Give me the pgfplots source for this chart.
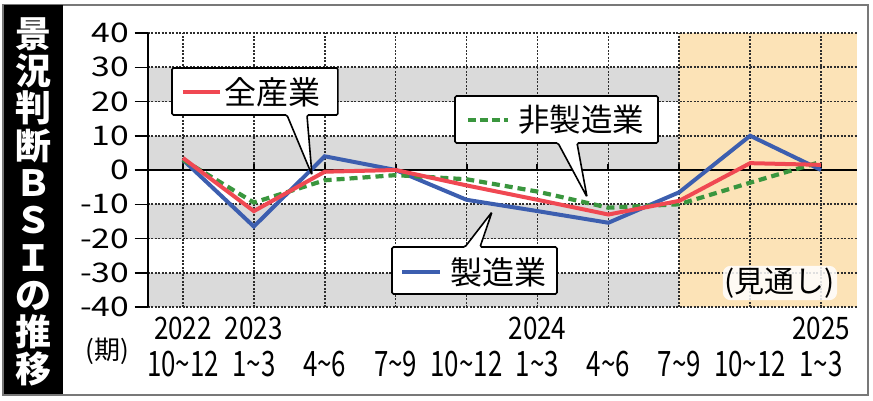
\documentclass[border=0pt]{standalone}
\usepackage{fontspec}
\setmainfont{Noto Sans CJK JP}
\newfontfamily\qfont{Noto Sans CJK JP}[FakeStretch=0.74]
\newfontfamily\yrfont{Noto Sans CJK JP}[FakeStretch=0.84]
\newfontfamily\ytfont{Noto Sans CJK JP}[FakeStretch=1.25]
\usepackage{pgfplots}
\pgfplotsset{compat=1.18}
\definecolor{band}{RGB}{218,218,218}
\definecolor{orangebg}{RGB}{252,227,183}
\definecolor{gridc}{RGB}{45,45,45}
\definecolor{framegray}{RGB}{120,120,120}
\definecolor{cred}{RGB}{240,72,82}
\definecolor{cblue}{RGB}{60,94,175}
\definecolor{cgreen}{RGB}{58,150,62}
\begin{document}
\begin{tikzpicture}
\useasboundingbox (0,0) rectangle (873pt,400pt);
\fill[white] (0,0) rectangle (873pt,400pt);
\draw[framegray, line width=1.5pt] (3pt,5pt) rectangle (868pt,395pt);
\fill[black] (4pt,6pt) rectangle (63pt,395pt);
\node[text=white, align=center, inner sep=0pt, font=\bfseries\fontsize{36}{37.3}\selectfont] at (33pt,198pt) {景\\況\\判\\断\\Ｂ\\Ｓ\\Ｉ\\の\\推\\移};
\node[inner sep=0pt, font=\fontsize{26}{26}\selectfont] at (107pt,49pt) {(期)};
\begin{axis}[
  at={(147.5pt,93pt)}, anchor=south west,
  scale only axis, width=709pt, height=274pt,
  xmin=-0.5, xmax=9.5, ymin=-40, ymax=40,
  clip=false,
  axis line style={draw=none},
  xtick={0,...,9},
  xticklabels={10\textasciitilde 12,1\textasciitilde 3,4\textasciitilde 6,7\textasciitilde 9,10\textasciitilde 12,1\textasciitilde 3,4\textasciitilde 6,7\textasciitilde 9,10\textasciitilde 12,1\textasciitilde 3},
  xtick style={draw=none},
  xticklabel style={anchor=base, inner sep=0pt, yshift=-56pt, font=\qfont\fontsize{35}{35}\selectfont},
  ytick={-40,-30,...,40},
  yticklabels={-40,-30,-20,-10,0,10,20,30,40},
  ytick pos=left,
  tick align=outside,
  major tick length=13pt,
  ytick style={black, line width=1.5pt},
  yticklabel style={anchor=east, inner sep=0pt, xshift=-5pt, font=\ytfont\fontsize{27}{27}\selectfont},
]
% backgrounds
\fill[orangebg] (axis cs:7,-40) rectangle (axis cs:9.5,40);
\fill[band] (axis cs:-0.5,20) rectangle (axis cs:7,30);
\fill[band] (axis cs:-0.5,0) rectangle (axis cs:7,10);
\fill[band] (axis cs:-0.5,-20) rectangle (axis cs:7,-10);
\fill[band] (axis cs:-0.5,-40) rectangle (axis cs:7,-30);
% grid
\pgfplotsinvokeforeach{-40,-30,-20,-10,10,20,30,40}{
  \draw[gridc, line width=1.6pt, dash pattern=on 2pt off 1.5pt] (axis cs:-0.5,#1) -- (axis cs:9.5,#1);
}
\pgfplotsinvokeforeach{0,...,9}{
  \draw[gridc, line width=1.6pt, dash pattern=on 2pt off 1.5pt] (axis cs:#1,-40) -- (axis cs:#1,40);
  \draw[black, line width=2pt] (axis cs:#1,0) -- ++(0pt,6pt);
}
\draw[black, line width=2.6pt] (axis cs:-0.5,0) -- (axis cs:9.5,0);
\draw[black, line width=2pt] (axis cs:-0.5,-40) -- (axis cs:-0.5,40);
% years
\node[anchor=base, inner sep=0pt, font=\yrfont\fontsize{31}{31}\selectfont] at ([yshift=-32pt]axis cs:0,-40) {2022};
\node[anchor=base, inner sep=0pt, font=\yrfont\fontsize{31}{31}\selectfont] at ([yshift=-32pt]axis cs:1,-40) {2023};
\node[anchor=base, inner sep=0pt, font=\yrfont\fontsize{31}{31}\selectfont] at ([yshift=-32pt]axis cs:5,-40) {2024};
\node[anchor=base, inner sep=0pt, font=\yrfont\fontsize{31}{31}\selectfont] at ([yshift=-32pt]axis cs:9,-40) {2025};
% data
\addplot[cblue, line width=4pt, line join=miter] coordinates {(0,3) (1,-16.5) (2,4) (3,0) (4,-8.7) (5,-12) (6,-15.4) (7,-6.5) (8,10) (9,0)};
\addplot[cgreen, line width=4.2pt, dash pattern=on 8pt off 5pt] coordinates {(0,3) (1,-9.5) (2,-3) (3,-1.5) (4,-2.7) (5,-6.3) (6,-11) (7,-10) (8,-3.7) (9,2.4)};
\addplot[cred, line width=4pt, line join=miter] coordinates {(0,3.5) (1,-12) (2,-0.5) (3,0) (4,-4.5) (5,-8.7) (6,-13) (7,-9) (8,2) (9,1.5)};
% callouts
\draw[fill=white, line width=1.6pt, rounded corners=1.5pt] (axis cs:-0.155,29.78) -- (axis cs:2.186,29.78) -- (axis cs:2.186,16.06) -- (axis cs:1.749,16.06) -- (axis cs:1.82,-1.46) -- (axis cs:1.467,16.06) -- (axis cs:-0.155,16.06) -- cycle;
\draw[cred, line width=4pt] (axis cs:0,22.77) -- (axis cs:0.522,22.77);
\node[inner sep=0pt, font=\fontsize{32}{32}\selectfont] at (axis cs:1.27,22.77) {全産業};
\draw[fill=white, line width=1.6pt, rounded corners=1.5pt] (axis cs:3.837,21.61) -- (axis cs:6.70,21.61) -- (axis cs:6.70,7.88) -- (axis cs:5.558,7.88) -- (axis cs:5.699,-7.88) -- (axis cs:5.29,7.88) -- (axis cs:3.837,7.88) -- cycle;
\draw[cgreen, line width=4pt, dash pattern=on 8pt off 4pt] (axis cs:4.02,14.6) -- (axis cs:4.59,14.6);
\node[inner sep=0pt, font=\fontsize{31.5}{31.5}\selectfont] at (axis cs:5.62,14.6) {非製造業};
\draw[fill=white, line width=1.6pt, rounded corners=1.5pt] (axis cs:2.948,-22.48) -- (axis cs:3.978,-22.48) -- (axis cs:4.359,-12.26) -- (axis cs:4.19,-22.48) -- (axis cs:5.276,-22.48) -- (axis cs:5.276,-36.2) -- (axis cs:2.948,-36.2) -- cycle;
\draw[cblue, line width=4pt] (axis cs:3.09,-29.78) -- (axis cs:3.625,-29.78);
\node[inner sep=0pt, font=\fontsize{32}{32}\selectfont] at (axis cs:4.45,-29.78) {製造業};
\node[inner sep=2pt, fill=white, fill opacity=0.85, text opacity=1, rounded corners=8pt, font=\fontsize{30}{30}\selectfont] at (axis cs:8.42,-33) {(見通し)};
\end{axis}
\end{tikzpicture}
\end{document}
